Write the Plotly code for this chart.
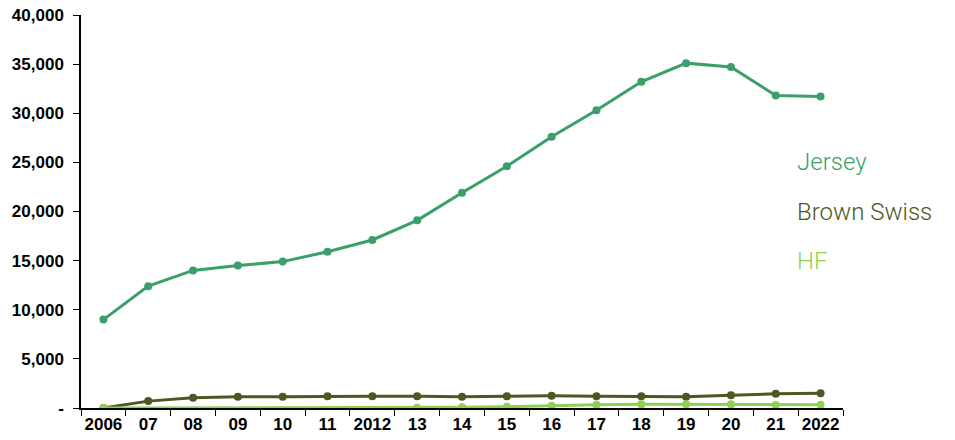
import plotly.graph_objects as go

# Fiscal years on the category axis
years = ["2006", "07", "08", "09", "10", "11", "2012", "13", "14", "15",
         "16", "17", "18", "19", "20", "21", "2022"]

# Head counts per breed
jersey = [9000, 12400, 14000, 14500, 14900, 15900, 17100, 19100, 21900,
          24600, 27600, 30300, 33200, 35100, 34700, 31800, 31700]
brown_swiss = [0, 700, 1050, 1150, 1150, 1200, 1200, 1200, 1150,
               1200, 1250, 1200, 1200, 1150, 1300, 1450, 1500]
# HF has no recorded figures between 2007 and 2012
hf = [0, None, None, None, None, None, None, 30, 70,
      130, 240, 340, 370, 370, 370, 300, 340]

y_ticks = [0, 5000, 10000, 15000, 20000, 25000, 30000, 35000, 40000]
y_tick_text = ["-"] + [f"{v:,}" for v in y_ticks[1:]]

series = [
    ("Jersey", jersey, "#3a9f68", 25000),
    ("Brown Swiss", brown_swiss, "#4d5722", 20000),
    ("HF", hf, "#8fd052", 15000),
]

fig = go.Figure()
# HF is added last so it sits on top at the shared zero point
for name, vals, color, _ in series:
    fig.add_trace(go.Scatter(
        x=years, y=vals, name=name, mode="lines+markers",
        connectgaps=True,
        line=dict(color=color, width=3),
        marker=dict(color=color, size=8),
    ))

for name, _, color, ypos in series:
    fig.add_annotation(
        text=name, xref="paper", x=0.937, xanchor="left",
        yref="y", y=ypos, yanchor="middle", showarrow=False,
        font=dict(family="Roboto", size=24, weight=300, color=color),
    )

tick_font = dict(family="Liberation Sans, Arial", size=17, weight="bold",
                 color="black")

fig.update_layout(
    width=955, height=440,
    margin=dict(l=81, r=112, t=15, b=32, autoexpand=False),
    plot_bgcolor="white", paper_bgcolor="white",
    showlegend=False,
)
fig.update_xaxes(
    type="category", range=[-0.5, 16.5], automargin=False, tickangle=0,
    showline=True, linecolor="black", linewidth=1.5,
    ticks="outside", tickson="boundaries", ticklen=6, tickcolor="black",
    tickfont=tick_font,
    showgrid=False, zeroline=False,
)
fig.update_yaxes(
    range=[0, 40000], tickvals=y_ticks, ticktext=y_tick_text,
    automargin=False,
    showline=True, linecolor="black", linewidth=1.5,
    ticks="outside", ticklen=6, tickcolor="black",
    tickfont=tick_font,
    showgrid=False, zeroline=False, ticklabelstandoff=6,
)

fig.write_html("out.html")
